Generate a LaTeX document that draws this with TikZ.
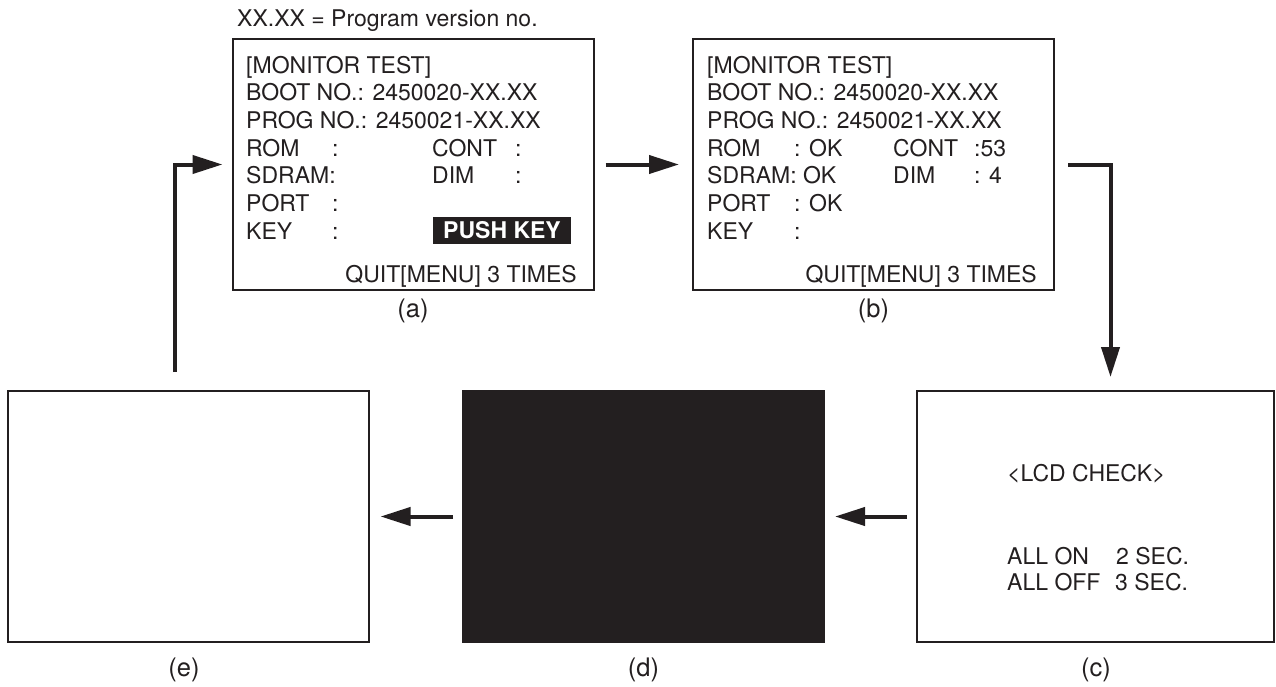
\documentclass[tikz,border=0pt]{standalone}
\usepackage{fontspec}
\setmainfont{TeX Gyre Heros}
\usetikzlibrary{arrows.meta}
\definecolor{ink}{HTML}{231F20}
\newcommand\scrfont{\fontsize{23}{27}\selectfont}
\tikzset{
  screen/.style={draw=ink, line width=2pt, minimum width=361pt, minimum height=251pt, inner sep=0pt},
  txt/.style={anchor=base west, inner sep=0pt, text=ink, font=\scrfont},
  txtr/.style={anchor=base east, inner sep=0pt, text=ink, font=\scrfont},
  sublabel/.style={anchor=base, inner sep=0pt, text=ink, font=\fontsize{25.5}{30}\selectfont},
  flow/.style={draw=ink, line width=4pt, -{Triangle[length=30pt,width=18pt]}}
}
\begin{document}
\begin{tikzpicture}[x=1pt,y=-1pt]
\useasboundingbox (0,0) rectangle (1276,686);
% screens
\node[screen] (scrA) at (413,164.5) {};
\node[screen] (scrB) at (873.5,164.5) {};
\node[screen, minimum width=357pt] (scrC) at (1095.5,516.5) {};
\node[screen, fill=ink] (scrD) at (643.5,516.5) {};
\node[screen] (scrE) at (188,516.5) {};
\node[txt] (note) at (237,26) {XX.XX = Program version no.};
% (a)
\node[txt] (aTitle) at (246,73) {[MONITOR TEST]};
\node[txt] (aBoot) at (246,100.5) {BOOT NO.: 2450020-XX.XX};
\node[txt] (aProg) at (246,128) {PROG NO.: 2450021-XX.XX};
\node[txt] (aRom) at (246,156) {ROM};
\node[txt] (aRomC) at (332,156) {:};
\node[txt] (aCont) at (432,156) {CONT};
\node[txt] (aContC) at (515,156) {:};
\node[txt] (aSdram) at (246,183.5) {SDRAM:};
\node[txt] (aDim) at (432,183.5) {DIM};
\node[txt] (aDimC) at (515,183.5) {:};
\node[txt] (aPort) at (246,211) {PORT};
\node[txt] (aPortC) at (332,211) {:};
\node[txt] (aKey) at (246,239) {KEY};
\node[txt] (aKeyC) at (332,239) {:};
\node[fill=ink, text=white, font=\scrfont\bfseries, minimum width=138pt, minimum height=27pt, inner sep=0pt] (pushkey) at (502,230.5) {PUSH KEY};
\node[txtr] (aQuit) at (577,282) {QUIT[MENU] 3 TIMES};
% (b)
\node[txt] (bTitle) at (707,73) {[MONITOR TEST]};
\node[txt] (bBoot) at (707,100.5) {BOOT NO.: 2450020-XX.XX};
\node[txt] (bProg) at (707,128) {PROG NO.: 2450021-XX.XX};
\node[txt] (bRom) at (707,156) {ROM};
\node[txt] (bRomC) at (794,156) {: OK};
\node[txt] (bCont) at (893,156) {CONT};
\node[txt] (bContC) at (974,156) {:53};
\node[txt] (bSdram) at (707,183.5) {SDRAM: OK};
\node[txt] (bDim) at (893,183.5) {DIM};
\node[txt] (bDimC) at (974,183.5) {: 4};
\node[txt] (bPort) at (707,211) {PORT};
\node[txt] (bPortC) at (794,211) {: OK};
\node[txt] (bKey) at (707,239) {KEY};
\node[txt] (bKeyC) at (794,239) {:};
\node[txtr] (bQuit) at (1037,282) {QUIT[MENU] 3 TIMES};
% (c)
\node[txt] (cTitle) at (1007,481) {<LCD CHECK>};
\node[txt] (cOn) at (1007,564) {ALL ON};
\node[txt] (cOnT) at (1116,564) {2 SEC.};
\node[txt] (cOff) at (1007,590) {ALL OFF};
\node[txt] (cOffT) at (1115,590) {3 SEC.};
% captions
\node[sublabel] (labA) at (413,317) {(a)};
\node[sublabel] (labB) at (873.5,317) {(b)};
\node[sublabel] (labC) at (1096,676) {(c)};
\node[sublabel] (labD) at (643.5,676) {(d)};
\node[sublabel] (labE) at (184,676) {(e)};
% flow
\draw[flow, shorten <=11pt, shorten >=13pt] (scrA.east) -- (scrB.west);
\draw[flow, shorten <=13pt, shorten >=13pt] (scrB.east) -| ([xshift=15pt]scrC.north);
\draw[flow, shorten <=9pt, shorten >=10pt] (scrC.west) -- (scrD.east);
\draw[flow, shorten <=9pt, shorten >=11pt] (scrD.west) -- (scrE.east);
\draw[flow, shorten <=18pt, shorten >=9pt] ([xshift=-13pt]scrE.north) |- (scrA.west);
\end{tikzpicture}
\end{document}
